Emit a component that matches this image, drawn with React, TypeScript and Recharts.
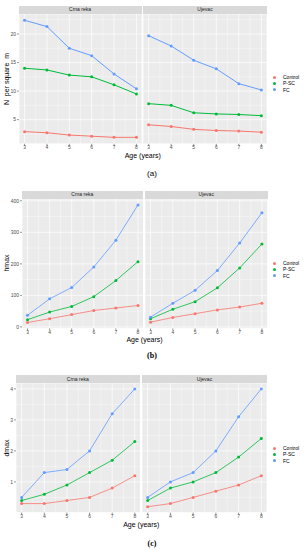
import React from 'react';
import { LineChart, Line, XAxis, YAxis, CartesianGrid, ReferenceLine } from 'recharts';

const ages = [3, 4, 5, 6, 7, 8];
const sites = ['Crna reka', 'Ujevac'];
const groups = ['Control', 'P-SC', 'FC'];
const COLORS = ['#F8766D', '#00BA38', '#619CFF'];

// (a) N per square m
const nCrnaControl = [2.9, 2.7, 2.3, 2.1, 1.9, 1.9];
const nCrnaPSC = [14.0, 13.7, 12.8, 12.5, 11.1, 9.5];
const nCrnaFC = [22.4, 21.3, 17.5, 16.2, 13.0, 10.4];
const nUjevacControl = [4.1, 3.8, 3.3, 3.1, 3.0, 2.8];
const nUjevacPSC = [7.8, 7.5, 6.2, 6.0, 5.9, 5.7];
const nUjevacFC = [19.7, 17.9, 15.4, 13.9, 11.3, 10.2];

// (b) hmax
const hCrnaControl = [14, 26, 39, 52, 60, 68];
const hCrnaPSC = [23, 47, 65, 96, 147, 207];
const hCrnaFC = [37, 89, 125, 190, 275, 387];
const hUjevacControl = [15, 30, 42, 54, 63, 75];
const hUjevacPSC = [26, 56, 80, 124, 187, 263];
const hUjevacFC = [31, 75, 116, 179, 266, 362];

// (c) dmax
const dCrnaControl = [0.3, 0.3, 0.4, 0.5, 0.8, 1.2];
const dCrnaPSC = [0.4, 0.6, 0.9, 1.3, 1.7, 2.3];
const dCrnaFC = [0.5, 1.3, 1.4, 2.0, 3.2, 4.0];
const dUjevacControl = [0.2, 0.3, 0.5, 0.7, 0.9, 1.2];
const dUjevacPSC = [0.4, 0.8, 1.0, 1.3, 1.8, 2.4];
const dUjevacFC = [0.5, 1.0, 1.3, 2.0, 3.1, 4.0];

const xTicks = [3, 4, 5, 6, 7, 8];
const xMinor = [3.5, 4.5, 5.5, 6.5, 7.5];

const buildRows = (series: number[][]) =>
  ages.map((age, i) => ({
    age,
    Control: series[0][i],
    'P-SC': series[1][i],
    FC: series[2][i],
  }));

const SANS = '"Liberation Sans", Arial, sans-serif';
const Y_AXIS_W = 14;
const X_AXIS_H = 8;

type PanelProps = {
  stripTop: number;
  plotTop: number;
  plotBottom: number;
  f1: [number, number];
  f2: [number, number];
  domain: [number, number];
  yTicks: number[];
  yMinor: number[];
  yTitle: string;
  yTitleY: number;
  data: [number[][], number[][]];
  legendY: number;
  ageY: number;
  caption: string;
  captionY: number;
  captionStyle: React.CSSProperties;
  lineW: number;
};

function Facet({
  left,
  right,
  p,
  series,
  site,
  showY,
}: {
  left: number;
  right: number;
  p: PanelProps;
  series: number[][];
  site: string;
  showY: boolean;
}) {
  const plotW = right - left;
  const plotH = p.plotBottom - p.plotTop;
  const yW = showY ? Y_AXIS_W : 0;
  const rows = buildRows(series);
  return (
    <>
      <div
        style={{
          position: 'absolute',
          left,
          top: p.stripTop,
          width: plotW,
          height: p.plotTop - p.stripTop,
          background: '#D9D9D9',
          color: '#1A1A1A',
          fontFamily: SANS,
          fontSize: 5,
          lineHeight: `${p.plotTop - p.stripTop}px`,
          textAlign: 'center',
        }}
      >
        {site}
      </div>
      <div style={{ position: 'absolute', left: left - yW, top: p.plotTop }}>
        <LineChart
          width={plotW + yW}
          height={plotH + X_AXIS_H}
          data={rows}
          margin={{ top: 0, right: 0, bottom: 0, left: 0 }}
        >
          <CartesianGrid fill="#EBEBEB" stroke="#FFFFFF" strokeWidth={0.7} />
          {xMinor.map((v) => (
            <ReferenceLine key={`xm${v}`} x={v} stroke="#FFFFFF" strokeWidth={0.35} />
          ))}
          {p.yMinor.map((v) => (
            <ReferenceLine key={`ym${v}`} y={v} stroke="#FFFFFF" strokeWidth={0.35} />
          ))}
          <XAxis
            dataKey="age"
            type="number"
            domain={[2.75, 8.25]}
            ticks={xTicks}
            height={X_AXIS_H}
            axisLine={false}
            tickSize={2}
            tickMargin={0}
            tickLine={{ stroke: '#333333', strokeWidth: 0.5 }}
            tick={{ fontSize: 5, fill: '#4D4D4D', fontFamily: SANS }}
            interval={0}
          />
          <YAxis
            type="number"
            domain={p.domain}
            ticks={p.yTicks}
            allowDataOverflow
            hide={!showY}
            width={Y_AXIS_W}
            axisLine={false}
            tickSize={2}
            tickMargin={1}
            tickLine={{ stroke: '#333333', strokeWidth: 0.5 }}
            tick={{ fontSize: 5, fill: '#4D4D4D', fontFamily: SANS }}
            interval={0}
          />
          {groups.map((g, i) => (
            <Line
              key={g}
              dataKey={g}
              stroke={COLORS[i]}
              strokeWidth={p.lineW}
              dot={{ r: 1.5, fill: COLORS[i], stroke: 'none' }}
              activeDot={false}
              isAnimationActive={false}
            />
          ))}
        </LineChart>
      </div>
    </>
  );
}

function Panel(p: PanelProps) {
  const plotMid = (p.plotTop + p.plotBottom) / 2;
  return (
    <>
      <div
        style={{
          position: 'absolute',
          left: 6,
          top: p.yTitleY,
          transform: 'translate(-50%, -50%) rotate(-90deg)',
          fontFamily: SANS,
          fontSize: 7,
          color: '#000',
          whiteSpace: 'pre',
        }}
      >
        {p.yTitle}
      </div>
      <Facet left={p.f1[0]} right={p.f1[1]} p={p} series={p.data[0]} site={sites[0]} showY />
      <Facet left={p.f2[0]} right={p.f2[1]} p={p} series={p.data[1]} site={sites[1]} showY={false} />
      <div
        style={{
          position: 'absolute',
          left: (p.f1[0] + p.f2[1]) / 2,
          top: p.ageY,
          transform: 'translate(-50%, -50%)',
          fontFamily: SANS,
          fontSize: 7,
          color: '#000',
          whiteSpace: 'pre',
        }}
      >
        Age (years)
      </div>
      {groups.map((g, i) => (
        <div
          key={g}
          style={{
            position: 'absolute',
            left: 273,
            top: p.legendY + i * 6.3 - 3,
            height: 6,
            display: 'flex',
            alignItems: 'center',
            fontFamily: SANS,
            fontSize: 5,
            color: '#000',
          }}
        >
          <span
            style={{
              display: 'inline-block',
              width: 3,
              height: 3,
              borderRadius: '50%',
              background: COLORS[i],
              marginRight: 7,
            }}
          />
          {g}
        </div>
      ))}
      <div
        style={{
          position: 'absolute',
          left: 152,
          top: p.captionY,
          transform: 'translate(-50%, -50%)',
          color: '#000',
          whiteSpace: 'pre',
          ...p.captionStyle,
        }}
      >
        {p.caption}
      </div>
      <span style={{ display: 'none' }}>{plotMid}</span>
    </>
  );
}

export default function App() {
  return (
    <div
      style={{
        position: 'absolute',
        left: 0,
        top: 0,
        width: 304,
        height: 550,
        background: '#FFFFFF',
        overflow: 'hidden',
      }}
    >
      <Panel
        stripTop={6}
        plotTop={13.7}
        plotBottom={143.5}
        f1={[18.5, 141.5]}
        f2={[143, 267]}
        domain={[0.77, 23.5]}
        yTicks={[5, 10, 15, 20]}
        yMinor={[2.5, 7.5, 12.5, 17.5, 22.5]}
        yTitle={'N  per square  m'}
        yTitleY={79}
        data={[
          [nCrnaControl, nCrnaPSC, nCrnaFC],
          [nUjevacControl, nUjevacPSC, nUjevacFC],
        ]}
        legendY={77}
        ageY={155}
        caption="(a)"
        captionY={173}
        captionStyle={{ fontFamily: SANS, fontSize: 8 }}
        lineW={1}
      />
      <Panel
        stripTop={191}
        plotTop={198.9}
        plotBottom={328.3}
        f1={[21.5, 143]}
        f2={[145, 267.5]}
        domain={[-4.7, 405.7]}
        yTicks={[0, 100, 200, 300, 400]}
        yMinor={[50, 150, 250, 350]}
        yTitle="hmax"
        yTitleY={263}
        data={[
          [hCrnaControl, hCrnaPSC, hCrnaFC],
          [hUjevacControl, hUjevacPSC, hUjevacFC],
        ]}
        legendY={263}
        ageY={339}
        caption="(b)"
        captionY={355}
        captionStyle={{ fontFamily: '"Liberation Serif", serif', fontSize: 8, fontWeight: 'bold' }}
        lineW={0.8}
      />
      <Panel
        stripTop={375}
        plotTop={383.4}
        plotBottom={513}
        f1={[15.5, 140]}
        f2={[142, 267]}
        domain={[0.01, 4.19]}
        yTicks={[1, 2, 3, 4]}
        yMinor={[0.5, 1.5, 2.5, 3.5]}
        yTitle="dmax"
        yTitleY={448}
        data={[
          [dCrnaControl, dCrnaPSC, dCrnaFC],
          [dUjevacControl, dUjevacPSC, dUjevacFC],
        ]}
        legendY={448}
        ageY={524}
        caption="(c)"
        captionY={543}
        captionStyle={{ fontFamily: '"Liberation Serif", serif', fontSize: 8, fontWeight: 'bold' }}
        lineW={0.8}
      />
    </div>
  );
}
